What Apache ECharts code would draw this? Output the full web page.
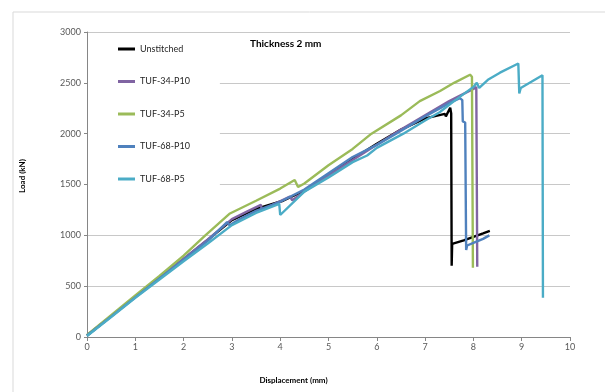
<!DOCTYPE html>
<html>
<head>
<meta charset="utf-8">
<script src="https://cdn.jsdelivr.net/npm/echarts@6/dist/echarts.min.js"></script>
<style>html,body{margin:0;padding:0;background:#fff}#c{width:605px;height:392px}</style>
</head>
<body>
<div id="c"></div>
<script>
const seriesNames = ['Unstitched', 'TUF-34-P10', 'TUF-34-P5', 'TUF-68-P10', 'TUF-68-P5'];
const seriesColors = ['#000000', '#8064A2', '#9BBB59', '#4F81BD', '#4BACC6'];
const xTicks = [0,1,2,3,4,5,6,7,8,9,10];
const yTicks = [0,500,1000,1500,2000,2500,3000];

const unstitched = [[0,15],[0.5,205],[1,395],[1.5,580],[2,765],[2.5,955],[3,1150],[3.5,1260],[4.06,1340],[4.5,1440],[5,1600],[5.5,1750],[6,1900],[6.5,2040],[7,2150],[7.41,2195],[7.43,2170],[7.52,2255],[7.54,2200],[7.55,700],[7.56,915],[7.8,950],[8.0,985],[8.2,1020],[8.34,1045]];
const tuf34p10 = [[0,15],[0.5,205],[1,395],[1.5,585],[2,770],[2.5,960],[3,1160],[3.3,1230],[3.6,1300],[3.62,1250],[3.8,1290],[4.2,1380],[4.25,1345],[4.5,1430],[5,1590],[5.5,1740],[6,1890],[6.5,2040],[7,2180],[7.5,2320],[8.0,2440],[8.06,2460],[8.08,690]];
const tuf34p5 = [[0,20],[0.5,215],[1,410],[1.5,600],[2,800],[2.45,1000],[2.96,1215],[3.5,1340],[4,1460],[4.3,1545],[4.37,1475],[4.5,1510],[5,1690],[5.5,1850],[5.89,2000],[6.5,2180],[6.89,2320],[7.31,2420],[7.6,2500],[7.93,2580],[7.97,2560],[7.99,680]];
const tuf68p10 = [[0,15],[0.5,200],[1,390],[1.5,575],[2,760],[2.5,945],[2.9,1130],[2.95,1100],[3.2,1170],[3.5,1240],[4,1330],[4.5,1450],[5,1610],[5.5,1770],[6,1890],[6.4,2000],[7,2170],[7.5,2300],[7.72,2350],[7.77,2330],[7.78,2120],[7.83,2110],[7.85,855],[7.87,900],[8.0,925],[8.2,965],[8.33,1000]];
const tuf68p5 = [[0,10],[0.5,195],[1,385],[1.5,565],[2,745],[2.5,920],[3,1100],[3.5,1220],[3.98,1310],[4.0,1200],[4.5,1430],[5,1570],[5.5,1720],[5.8,1785],[6,1860],[6.55,2000],[7,2130],[7.3,2210],[7.6,2320],[8.0,2460],[8.07,2500],[8.12,2450],[8.3,2530],[8.55,2600],[8.93,2690],[8.95,2395],[8.98,2450],[9.2,2510],[9.43,2575],[9.44,385]];

const allData = [unstitched, tuf34p10, tuf34p5, tuf68p10, tuf68p5];
const FONT = 'Lato, "Liberation Sans", sans-serif';

const chart = echarts.init(document.getElementById('c'), null, {renderer: 'canvas'});
chart.setOption({
  animation: false,
  backgroundColor: '#fff',
  grid: {left: 87, right: 35, top: 32, bottom: 55, containLabel: false},
  xAxis: {
    type: 'value', min: xTicks[0], max: xTicks[xTicks.length-1], interval: 1,
    axisLine: {show: true, lineStyle: {color: '#868686', width: 1}},
    axisTick: {show: true, inside: false, length: 4, lineStyle: {color: '#868686'}},
    axisLabel: {color: '#595959', fontSize: 9, fontFamily: FONT, margin: 6, formatter: v => String(v)},
    splitLine: {show: false}
  },
  yAxis: {
    type: 'value', min: yTicks[0], max: yTicks[yTicks.length-1], interval: 500,
    axisLine: {show: true, lineStyle: {color: '#868686', width: 1}},
    axisTick: {show: true, inside: false, length: 3, lineStyle: {color: '#868686'}},
    axisLabel: {color: '#595959', fontSize: 9, fontFamily: FONT, margin: 6, formatter: v => String(v)},
    splitLine: {show: true, lineStyle: {color: '#c8c8c8', width: 1}}
  },
  legend: {
    orient: 'vertical', left: 88, top: 36,
    padding: [6, 30, 6, 30],
    backgroundColor: '#ffffff',
    itemGap: 18.5, itemWidth: 17, itemHeight: 3, icon: 'rect',
    textStyle: {fontSize: 9, lineHeight: 14, color: '#262626', fontFamily: FONT},
    data: seriesNames
  },
  graphic: [
    {type: 'rect', silent: true, z: -10, shape: {x: 13, y: 12, width: 620, height: 400}, style: {fill: 'none', stroke: '#d9d9d9', lineWidth: 1}},
    {type: 'text', left: 250, top: 39, style: {text: 'Thickness 2 mm', fontSize: 10, fontWeight: 'bold', fill: '#000', fontFamily: FONT}},
    {type: 'text', x: 22, y: 176, rotation: Math.PI/2, style: {text: 'Load (kN)', fontSize: 8, fontWeight: 'bold', fill: '#000', fontFamily: FONT, align: 'center', verticalAlign: 'middle'}},
    {type: 'text', x: 293.5, y: 380, style: {text: 'Displacement (mm)', fontSize: 8, fontWeight: 'bold', fill: '#000', fontFamily: FONT, align: 'center', verticalAlign: 'middle'}}
  ],
  series: seriesNames.map((n, i) => ({
    name: n, type: 'line', data: allData[i], showSymbol: false, symbol: 'none',
    color: seriesColors[i],
    lineStyle: {color: seriesColors[i], width: 2.4},
    z: 2 + i
  }))
});
</script>
</body>
</html>
